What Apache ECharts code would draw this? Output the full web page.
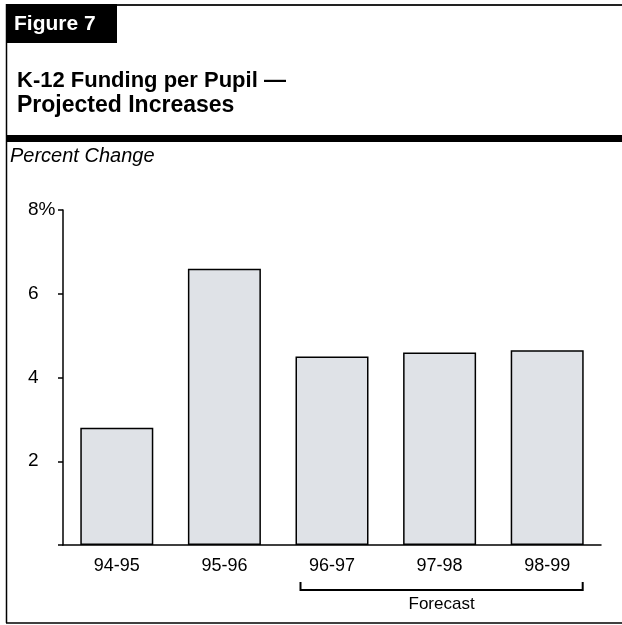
<!DOCTYPE html>
<html>
<head>
<meta charset="utf-8">
<script src="https://cdn.jsdelivr.net/npm/echarts@6/dist/echarts.min.js"></script>
<style>
html,body{margin:0;padding:0;background:#fff;}
#c{width:622px;height:625px;}
</style>
</head>
<body>
<div id="c"></div>
<script>
var categories = ['94-95', '95-96', '96-97', '97-98', '98-99'];
var values = [2.8, 6.6, 4.5, 4.6, 4.65];
var yTicks = [0, 2, 4, 6, 8];
var forecastRange = ['96-97', '98-99'];
var figureLabel = 'Figure 7';
var titleLines = ['K-12 Funding per Pupil \u2014', 'Projected Increases'];
var unitLabel = 'Percent Change';
var forecastLabel = 'Forecast';

var FONT = '"Liberation Sans", Arial, Helvetica, sans-serif';
var chart = echarts.init(document.getElementById('c'), null, {renderer: 'canvas'});
var BAR_W = 73;

var option = {
  animation: false,
  backgroundColor: '#fff',
  grid: {left: 63, right: 21, top: 210, bottom: 80, containLabel: false},
  xAxis: {
    type: 'category',
    data: categories,
    axisLine: {lineStyle: {color: '#000', width: 1.5}},
    axisTick: {show: false},
    axisLabel: {color: '#000', fontFamily: FONT, fontSize: 18, margin: 12}
  },
  yAxis: {
    type: 'value',
    min: yTicks[0],
    max: yTicks[yTicks.length - 1],
    interval: 2,
    splitLine: {show: false},
    axisLine: {show: true, lineStyle: {color: '#000', width: 1.5}},
    axisTick: {show: true, length: 5, lineStyle: {color: '#000', width: 1.5}},
    axisLabel: {
      color: '#000', fontFamily: FONT, fontSize: 19, margin: 35, align: 'left',
      padding: [4, 0, 0, 0],
      formatter: function (v) {
        if (v === yTicks[0]) return '';
        if (v === yTicks[yTicks.length - 1]) return v + '%';
        return String(v);
      }
    }
  },
  series: [{
    type: 'bar',
    data: values,
    barWidth: BAR_W,
    itemStyle: {color: '#dfe2e7', borderColor: '#000', borderWidth: 1.5}
  }],
  graphic: [
    {type: 'line', shape: {x1: 6, y1: 5, x2: 622, y2: 5}, style: {stroke: '#222', lineWidth: 2}},
    {type: 'line', shape: {x1: 6.5, y1: 4, x2: 6.5, y2: 623}, style: {stroke: '#000', lineWidth: 1.5}},
    {type: 'line', shape: {x1: 6, y1: 623, x2: 622, y2: 623}, style: {stroke: '#000', lineWidth: 1.5}},
    {type: 'rect', shape: {x: 6, y: 4, width: 111, height: 39}, style: {fill: '#000'}},
    {type: 'text', x: 14, y: 24, style: {text: figureLabel, fill: '#fff', font: 'bold 21px ' + FONT, verticalAlign: 'middle'}},
    {type: 'text', x: 17, y: 81, style: {text: titleLines[0], fill: '#000', font: 'bold 22px ' + FONT, verticalAlign: 'middle'}},
    {type: 'text', x: 17, y: 106, style: {text: titleLines[1], fill: '#000', font: 'bold 23px ' + FONT, verticalAlign: 'middle'}},
    {type: 'rect', shape: {x: 6, y: 135, width: 616, height: 7}, style: {fill: '#000'}},
    {type: 'text', x: 10, y: 156, style: {text: unitLabel, fill: '#000', font: 'italic 20px ' + FONT, verticalAlign: 'middle'}}
  ]
};
chart.setOption(option);

var i0 = categories.indexOf(forecastRange[0]);
var i1 = categories.indexOf(forecastRange[1]);
var p0 = chart.convertToPixel({seriesIndex: 0}, [i0, 0]);
var p1 = chart.convertToPixel({seriesIndex: 0}, [i1, 0]);
var xl = p0[0] - BAR_W / 2 + 5;
var xr = p1[0] + BAR_W / 2 - 1;
var yb = 590;
chart.setOption({
  graphic: option.graphic.concat([
    {type: 'polyline', shape: {points: [[xl, 582], [xl, yb], [xr, yb], [xr, 582]]}, style: {stroke: '#000', lineWidth: 2, fill: null}},
    {type: 'text', x: (xl + xr) / 2, y: 604, style: {text: forecastLabel, fill: '#000', font: '17px ' + FONT, align: 'center', verticalAlign: 'middle'}}
  ])
});
</script>
</body>
</html>
